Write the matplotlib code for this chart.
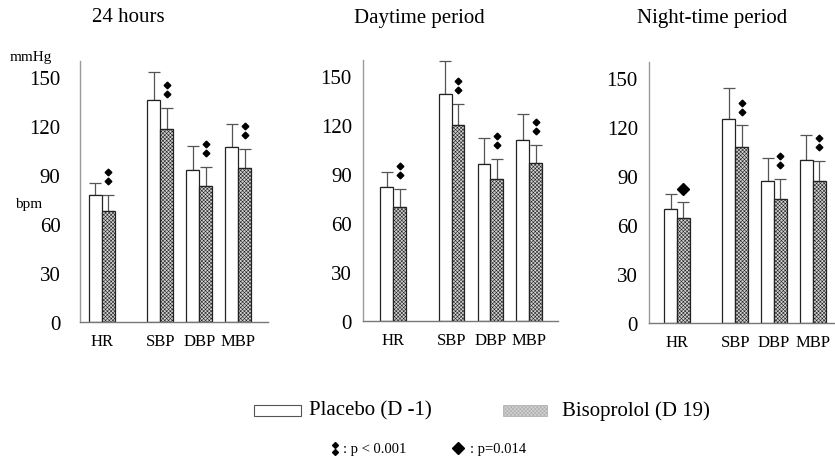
import numpy as np
import matplotlib
matplotlib.use("Agg")
import matplotlib.pyplot as plt
from matplotlib.patches import Rectangle
from matplotlib.lines import Line2D

plt.rcParams['font.family'] = ['Liberation Serif', 'DejaVu Serif']
plt.rcParams['hatch.color'] = '#9a9a9a'
plt.rcParams['hatch.linewidth'] = 0.4

categories = ['HR', 'SBP', 'DBP', 'MBP']
positions = [0, 1.5, 2.5, 3.5]

titles = ['24 hours', 'Daytime period', 'Night-time period']

placebo_24h = [78, 136, 93, 107]
placebo_24h_sd = [7, 17, 15, 14]
biso_24h = [68, 118, 83, 94]
biso_24h_sd = [10, 13, 12, 12]

placebo_day = [82, 139, 96, 111]
placebo_day_sd = [9, 20, 16, 16]
biso_day = [70, 120, 87, 97]
biso_day_sd = [11, 13, 12, 11]

placebo_night = [70, 125, 87, 100]
placebo_night_sd = [9, 19, 14, 15]
biso_night = [64, 108, 76, 87]
biso_night_sd = [10, 13, 12, 12]

# significance: 'a' = p < 0.001 (double diamond), 'b' = p=0.014 (large diamond)
sig_24h = ['a', 'a', 'a', 'a']
sig_day = ['a', 'a', 'a', 'a']
sig_night = ['b', 'a', 'a', 'a']

yticks = [0, 30, 60, 90, 120, 150]

panels = [
    (placebo_24h, placebo_24h_sd, biso_24h, biso_24h_sd, sig_24h),
    (placebo_day, placebo_day_sd, biso_day, biso_day_sd, sig_day),
    (placebo_night, placebo_night_sd, biso_night, biso_night_sd, sig_night),
]

W, H = 835, 464
fig = plt.figure(figsize=(W / 100, H / 100), dpi=100)

# axes boxes in pixels: left, right, y of zero, xlim, tick pad
boxes = [
    (80, 268, 323, (-0.56, 4.26), 14),
    (363, 558, 322, (-0.78, 4.24), 8),
    (649, 835, 324, (-0.72, 4.07), 8),
]
title_x = [128, 419, 712]

bw = 0.33
hatch_face = '#d2d2d2'
for i, (pl, pl_sd, bi, bi_sd, sig) in enumerate(panels):
    left, right, y0, xl, pad = boxes[i]
    top = y0 - 160 * 1.633
    ax = fig.add_axes([left / W, (H - y0) / H, (right - left) / W, (y0 - top) / H])
    x = np.array(positions)
    ax.bar(x - bw / 2, pl, bw, color='white', edgecolor='#222222', linewidth=0.9, zorder=2)
    ax.bar(x + bw / 2, bi, bw, color=hatch_face, edgecolor='#222222', linewidth=0.9,
           hatch='xxxxxxxxx', zorder=2)
    ax.errorbar(x - bw / 2, pl, yerr=[np.zeros(4), pl_sd], fmt='none', ecolor='#555555',
                elinewidth=0.9, capsize=4, capthick=0.9, zorder=1)
    ax.errorbar(x + bw / 2, bi, yerr=[np.zeros(4), bi_sd], fmt='none', ecolor='#555555',
                elinewidth=0.9, capsize=4, capthick=0.9, zorder=1)
    for xi, b, s, kind in zip(x + bw / 2, bi, bi_sd, sig):
        if kind == 'a':
            ax.plot([xi, xi], [b + s + 8.5, b + s + 14], ls='none', marker='D',
                    markersize=3.4, color='black', zorder=3)
        else:
            ax.plot([xi], [b + s + 8], marker='D', markersize=6.5, color='black', zorder=3)
    ax.set_xlim(*xl)
    ax.set_ylim(0, 160)
    ax.set_yticks(yticks)
    ax.set_xticks(positions)
    ax.set_xticklabels(categories, fontsize=12)
    ax.tick_params(axis='y', length=0, pad=pad, labelsize=15)
    ax.tick_params(axis='x', length=0, pad=8)
    for sp in ['top', 'right']:
        ax.spines[sp].set_visible(False)
    ax.spines['left'].set_color('#9a9a9a')
    ax.spines['bottom'].set_color('#777777')
    ax.spines['left'].set_linewidth(1.0)
    ax.spines['bottom'].set_linewidth(1.0)
    fig.text(title_x[i] / W, 1 - 18 / H, titles[i], fontsize=15, ha='center', va='center')

fig.text(31 / W, 1 - 57 / H, 'mmHg', fontsize=11, ha='center', va='center')
fig.text(29 / W, 1 - 205 / H, 'bpm', fontsize=11, ha='center', va='center')

# legend
fig.patches.append(Rectangle((254 / W, 1 - 417 / H), 47 / W, 11 / H, transform=fig.transFigure,
                             facecolor='white', edgecolor='#555555', linewidth=0.8))
fig.patches.append(Rectangle((503 / W, 1 - 417 / H), 44 / W, 11 / H, transform=fig.transFigure,
                             facecolor=hatch_face, edgecolor='#aaaaaa', linewidth=0.5,
                             hatch='xxxxxxxxx'))
fig.text(309 / W, 1 - 411 / H, 'Placebo (D -1)', fontsize=15, ha='left', va='center')
fig.text(562 / W, 1 - 411 / H, 'Bisoprolol (D 19)', fontsize=15, ha='left', va='center')

fig.add_artist(Line2D([335 / W, 335 / W], [1 - 446 / H, 1 - 453 / H], transform=fig.transFigure,
                      ls='none', marker='D', markersize=3, color='black'))
fig.text(343 / W, 1 - 450 / H, ': p < 0.001', fontsize=10.5, ha='left', va='center')
fig.add_artist(Line2D([458 / W], [1 - 449 / H], transform=fig.transFigure,
                      ls='none', marker='D', markersize=6.5, color='black'))
fig.text(470 / W, 1 - 450 / H, ': p=0.014', fontsize=10.5, ha='left', va='center')

fig.savefig('out.png', dpi=100)
